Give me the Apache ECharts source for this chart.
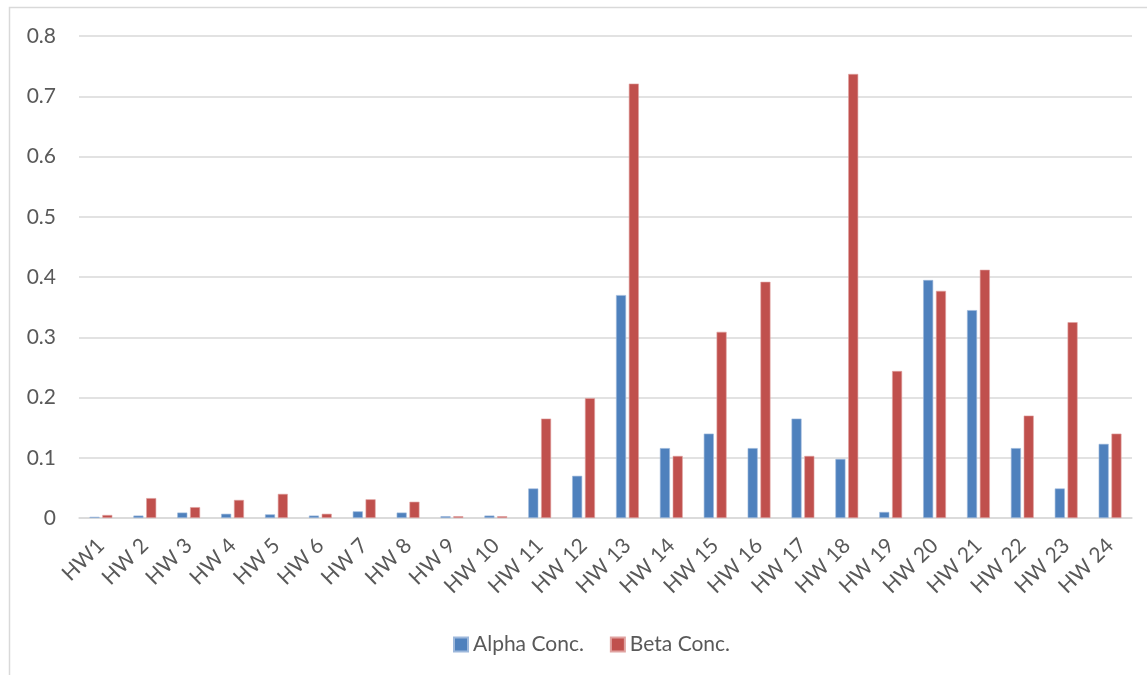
<!DOCTYPE html>
<html>
<head>
<meta charset="utf-8">
<script src="https://cdn.jsdelivr.net/npm/echarts@6/dist/echarts.min.js"></script>
<style>
html,body{margin:0;padding:0;background:#fff;}
#chart{width:1147px;height:675px;}
</style>
</head>
<body>
<div id="chart"></div>
<script>
const categories = ['HW1','HW 2','HW 3','HW 4','HW 5','HW 6','HW 7','HW 8','HW 9','HW 10','HW 11','HW 12','HW 13','HW 14','HW 15','HW 16','HW 17','HW 18','HW 19','HW 20','HW 21','HW 22','HW 23','HW 24'];
const alphaConc = [0.002,0.004,0.009,0.007,0.006,0.004,0.011,0.009,0.003,0.004,0.049,0.070,0.370,0.116,0.140,0.116,0.165,0.098,0.010,0.395,0.345,0.116,0.049,0.123];
const betaConc  = [0.005,0.033,0.018,0.030,0.040,0.007,0.031,0.027,0.003,0.003,0.165,0.199,0.721,0.103,0.309,0.392,0.103,0.737,0.244,0.377,0.412,0.170,0.325,0.140];
const yTicks = [0, 0.8, 0.1];

const chart = echarts.init(document.getElementById('chart'));
const font = 'Lato, "Open Sans", sans-serif';
chart.setOption({
  animation: false,
  graphic: [
    { type: 'polyline', shape: { points: [[9.5, 675], [9.5, 7.5], [1147, 7.5]] },
      style: { stroke: '#d9d9d9', lineWidth: 1.5, fill: null } }
  ],
  grid: { left: 79, right: 15, top: 36, bottom: 157 },
  legend: {
    data: ['Alpha Conc.', 'Beta Conc.'],
    left: 448, top: 629,
    itemWidth: 14, itemHeight: 14, itemGap: 26,
    icon: 'rect',
    textStyle: { color: '#595959', fontSize: 21, fontFamily: font }
  },
  xAxis: {
    type: 'category',
    data: categories,
    axisLine: { lineStyle: { color: '#d9d9d9', width: 1.5 } },
    axisTick: { show: false },
    axisLabel: { rotate: 45, interval: 0, color: '#595959', fontSize: 21, fontFamily: font, margin: 24 }
  },
  yAxis: {
    type: 'value',
    min: yTicks[0], max: yTicks[1], interval: yTicks[2],
    axisLine: { show: false },
    axisTick: { show: false },
    splitLine: { lineStyle: { color: '#d9d9d9', width: 1.5 } },
    axisLabel: { color: '#595959', fontSize: 21, fontFamily: font, margin: 23,
      formatter: v => v === 0 ? '0' : String(Math.round(v * 10) / 10) }
  },
  series: [
    { name: 'Alpha Conc.', type: 'bar', data: alphaConc, barWidth: 10, barGap: '28%',
      itemStyle: { color: '#4F81BD', borderColor: '#9db8db', borderWidth: 0.6 } },
    { name: 'Beta Conc.', type: 'bar', data: betaConc, barWidth: 10,
      itemStyle: { color: '#C0504D', borderColor: '#e0a3a1', borderWidth: 0.6 } }
  ]
});
</script>
</body>
</html>
